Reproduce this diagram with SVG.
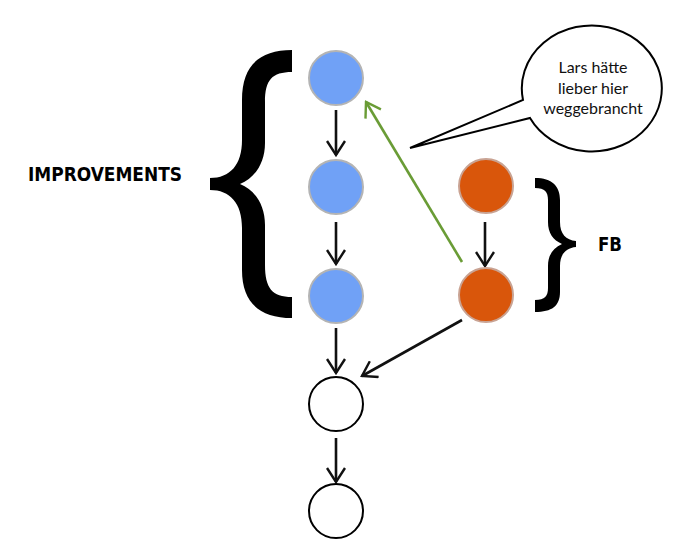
<svg xmlns="http://www.w3.org/2000/svg" width="685" height="559" viewBox="0 0 685 559">
<style>
.blue{fill:#70a1f6;stroke:#b4b4b4;stroke-width:2}
.orange{fill:#d9560b;stroke:#c9a393;stroke-width:2}
.white{fill:#fff;stroke:#000;stroke-width:2}
.arr{fill:none;stroke:#111;stroke-width:2.6;marker-end:url(#hd)}
.brace{fill:#000}
.lbl{font-family:"DejaVu Sans",sans-serif;font-weight:bold;fill:#000}
.bub{font-family:Lato,"Open Sans",sans-serif;font-size:16px;fill:#111;text-anchor:middle}
</style>
<defs>
<marker id="hd" viewBox="0 0 20 20" refX="18" refY="10" markerWidth="20" markerHeight="20" markerUnits="userSpaceOnUse" orient="auto">
<path d="M4,1 L18,10 L4,19" fill="none" stroke="#111" stroke-width="2.4"/>
</marker>
<marker id="hg" viewBox="0 0 20 20" refX="18" refY="10" markerWidth="20" markerHeight="20" markerUnits="userSpaceOnUse" orient="auto">
<path d="M4,1 L18,10 L4,19" fill="none" stroke="#6a9c36" stroke-width="2.4"/>
</marker>
</defs>
<g id="connectors">
<line class="arr" x1="336" y1="110" x2="336" y2="155"/>
<line class="arr" x1="336" y1="222" x2="336" y2="264"/>
<line class="arr" x1="336" y1="328" x2="336" y2="373"/>
<line class="arr" x1="336" y1="438" x2="336" y2="482"/>
<line class="arr" x1="485" y1="222" x2="485" y2="266"/>
<line class="arr" x1="462" y1="320" x2="362" y2="376"/>
<line x1="462" y1="262" x2="366" y2="102" stroke="#6a9c36" stroke-width="2.6" marker-end="url(#hg)"/>
</g>
<g id="blue1"><circle class="blue" cx="336" cy="78" r="27"/></g>
<g id="blue2"><circle class="blue" cx="336" cy="187" r="27"/></g>
<g id="blue3"><circle class="blue" cx="336" cy="296" r="27"/></g>
<g id="orange1"><circle class="orange" cx="486" cy="186" r="27"/></g>
<g id="orange2"><circle class="orange" cx="486" cy="295" r="27"/></g>
<g id="white1"><circle class="white" cx="336" cy="404" r="27"/></g>
<g id="white2"><circle class="white" cx="336" cy="511" r="27"/></g>
<g id="brace-improvements">
<path class="brace" d="M292,50 C260,50 242,65 242,100 L242,140 C242,165 230,178 210,178 L210,190 C230,190 242,203 242,228 L242,270 C242,303 260,318 292,318 L292,297 C272,297 265,288 265,265 L265,225 C265,205 255,190 240,184 C255,178 265,163 265,143 L265,102 C265,80 272,72 292,72 Z"/>
<text class="lbl" x="28" y="181" font-size="20" textLength="154" lengthAdjust="spacingAndGlyphs">IMPROVEMENTS</text>
</g>
<g id="brace-fb">
<path class="brace" d="M535,178 C552,178 560,186 560,200 L560,222 C560,234 566,240 576,241 L576,247 C566,248 560,254 560,266 L560,292 C560,306 552,312 535,312 L535,300 C545,300 548,296 548,288 L548,266 C548,255 553,248 562,244 C553,240 548,233 548,222 L548,200 C548,192 545,188 535,188 Z"/>
<text class="lbl" x="598" y="251" font-size="19" textLength="24" lengthAdjust="spacingAndGlyphs">FB</text>
</g>
<g id="bubble">
<path d="M523,100 A70,63 0 1 1 530,118 L410,148 Z" fill="#fff" stroke="#000" stroke-width="2" stroke-linejoin="miter"/>
<text class="bub" x="593" y="73">Lars hätte</text>
<text class="bub" x="593" y="94">lieber hier</text>
<text class="bub" x="593" y="114">weggebrancht</text>
</g>
</svg>
